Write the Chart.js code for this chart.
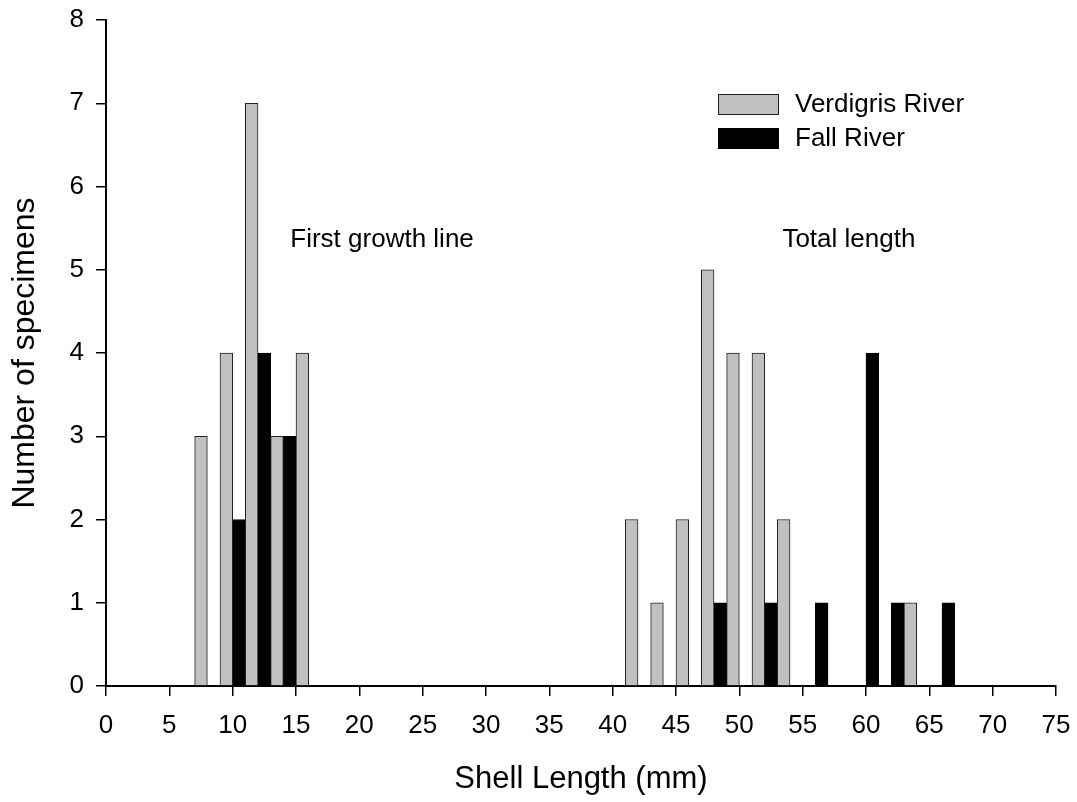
<!DOCTYPE html>
<html><head><meta charset="utf-8">
<script src="https://cdn.jsdelivr.net/npm/chart.js@4.4.1/dist/chart.umd.min.js"></script>
<style>html,body{margin:0;padding:0;background:#fff;} canvas{display:block;}</style>
</head><body>
<canvas id="c" width="1077" height="802"></canvas>
<script>
// ---- data ----
const binCenters      = [8, 10, 12, 14, 16, 42, 44, 46, 48, 50, 52, 54, 56, 60, 62, 64, 66];
const verdigrisCounts = [3,  4,  7,  3,  4,  2,  1,  2,  5,  4,  4,  2,  0,  0,  0,  1,  0];
const fallCounts      = [0,  2,  4,  3,  0,  0,  0,  0,  1,  0,  1,  0,  1,  4,  1,  0,  1];
const seriesNames = ['Verdigris River', 'Fall River'];
const xTickValues = [0, 5, 10, 15, 20, 25, 30, 35, 40, 45, 50, 55, 60, 65, 70, 75];
const yTickValues = [0, 1, 2, 3, 4, 5, 6, 7, 8];
const annotationTexts = ['First growth line', 'Total length'];
const xTitle = 'Shell Length (mm)';
const yTitle = 'Number of specimens';

const FONT = '"Liberation Sans", Arial, Helvetica, sans-serif';
Chart.defaults.font.family = FONT;
Chart.defaults.color = '#000';

function toPoints(counts) {
  return binCenters.map((x, i) => ({ x: x, y: counts[i] })).filter(p => p.y > 0);
}

const overlay = {
  id: 'overlay',
  afterDatasetsDraw(chart) {
    const { ctx } = chart;
    const xs = chart.scales.x, ys = chart.scales.y;
    ctx.save();
    ctx.fillStyle = '#000';
    ctx.textBaseline = 'middle';
    ctx.textAlign = 'left';
    ctx.font = '26px ' + FONT;
    ctx.fillText(annotationTexts[0], xs.getPixelForValue(14.55), ys.getPixelForValue(5.355));
    ctx.fillText(annotationTexts[1], xs.getPixelForValue(53.4), ys.getPixelForValue(5.355));
    // legend
    const lx = 718, bw = 61, bh = 21, rows = [104.5, 138.5];
    chart.data.datasets.forEach((ds, i) => {
      const cy = rows[i];
      ctx.fillStyle = ds.backgroundColor;
      ctx.fillRect(lx, cy - bh / 2, bw, bh);
      ctx.strokeStyle = ds.borderColor;
      ctx.lineWidth = 1;
      ctx.strokeRect(lx + 0.5, cy - bh / 2 + 0.5, bw - 1, bh - 1);
      ctx.fillStyle = '#000';
      ctx.fillText(ds.label, 795, cy);
    });
    // x axis title
    ctx.font = '31px ' + FONT;
    ctx.textAlign = 'center';
    ctx.fillText(xTitle, 581, 779);
    ctx.restore();
  }
};

new Chart(document.getElementById('c'), {
  type: 'bar',
  data: {
    datasets: [
      { label: seriesNames[0], data: toPoints(verdigrisCounts), backgroundColor: '#c0c0c0', borderColor: '#222222', borderWidth: 1 },
      { label: seriesNames[1], data: toPoints(fallCounts), backgroundColor: '#000000', borderColor: '#000000', borderWidth: 1 }
    ]
  },
  options: {
    responsive: false,
    animation: false,
    devicePixelRatio: 1,
    categoryPercentage: 1.0,
    barPercentage: 1.0,
    layout: { padding: { top: 20, right: 21, bottom: 0, left: 0 } },
    plugins: { legend: { display: false }, tooltip: { enabled: false } },
    scales: {
      x: {
        type: 'linear', min: 0, max: 75, offset: false,
        afterBuildTicks: s => { s.ticks = xTickValues.map(v => ({ value: v })); },
        afterFit: s => { s.height = 116; s.paddingLeft = 0; s.paddingRight = 0; },
        grid: { offset: false, drawOnChartArea: false, drawTicks: true, tickLength: 10, color: '#000', lineWidth: 1.5 },
        border: { display: true, color: '#000', width: 2 },
        ticks: { font: { size: 26 }, color: '#000', padding: 14, maxRotation: 0, autoSkip: false }
      },
      y: {
        type: 'linear', min: 0, max: 8,
        afterBuildTicks: s => { s.ticks = yTickValues.map(v => ({ value: v })); },
        afterFit: s => { s.width = 106; s.paddingTop = 0; s.paddingBottom = 0; },
        grid: { drawOnChartArea: false, drawTicks: true, tickLength: 10, color: '#000', lineWidth: 1.5 },
        border: { display: true, color: '#000', width: 2 },
        ticks: { font: { size: 26 }, color: '#000', padding: 12 },
        title: { display: true, text: yTitle, font: { size: 32 }, color: '#000', padding: { top: 6, bottom: 0 } }
      }
    }
  },
  plugins: [overlay]
});
</script>
</body></html>
